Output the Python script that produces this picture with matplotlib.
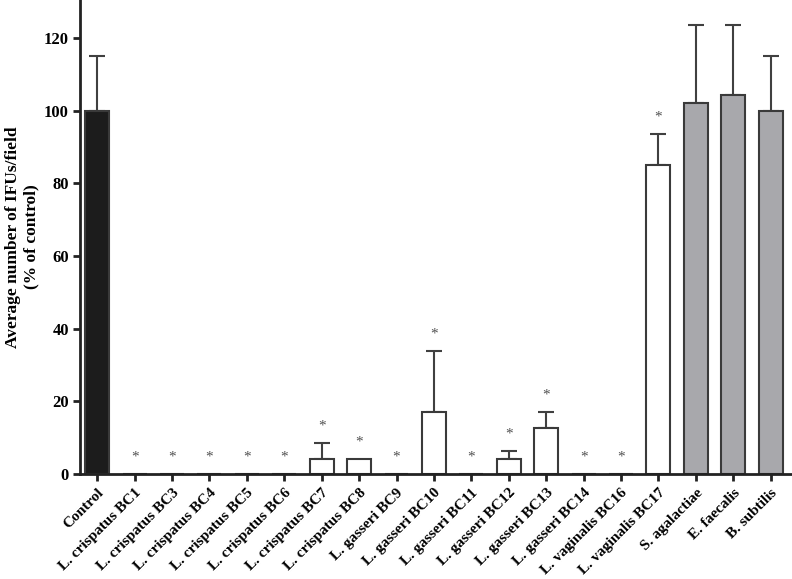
import numpy as np
import matplotlib
matplotlib.use("Agg")
import matplotlib.pyplot as plt

plt.rcParams['font.family'] = ['Liberation Serif', 'DejaVu Serif']
plt.rcParams['font.weight'] = 'bold'

labels = ["Control", "L. crispatus BC1", "L. crispatus BC3", "L. crispatus BC4",
          "L. crispatus BC5", "L. crispatus BC6", "L. crispatus BC7", "L. crispatus BC8",
          "L. gasseri BC9", "L. gasseri BC10", "L. gasseri BC11", "L. gasseri BC12",
          "L. gasseri BC13", "L. gasseri BC14", "L. vaginalis BC16", "L. vaginalis BC17",
          "S. agalactiae", "E. faecalis", "B. subtilis"]
means = [100, 0, 0, 0, 0, 0, 4.3, 4.3, 0, 17.0, 0, 4.3, 12.7, 0, 0, 85.1, 102.0, 104.3, 99.9]
errs = [15.0, 0, 0, 0, 0, 0, 4.3, 0, 0, 17.0, 0, 2.1, 4.4, 0, 0, 8.4, 21.5, 19.2, 15.0]
signif = [False, True, True, True, True, True, True, True, True, True, True, True,
          True, True, True, True, False, False, False]
groups = ["control"] + ["lacto"] * 15 + ["other"] * 3

colors = {"control": "#1c1c1c", "lacto": "white", "other": "#a8a8ac"}
edge = "#3a3a3a"

fig = plt.figure(figsize=(7.92, 5.79), dpi=100)
ax = fig.add_axes([0.101, 0.181, 0.899, 0.819])

x = np.arange(len(labels))
ax.bar(x, means, width=0.64, color=[colors[g] for g in groups],
       edgecolor=edge, linewidth=1.5, zorder=2)
has_err = [i for i in x if errs[i] > 0]
ax.errorbar([x[i] for i in has_err], [means[i] for i in has_err],
            yerr=[[0] * len(has_err), [errs[i] for i in has_err]],
            fmt='none', ecolor="#404040", elinewidth=1.5, capsize=6, capthick=1.5, zorder=1)

# asterisks above significant bars
for i in x:
    if signif[i]:
        top = means[i] + errs[i]
        ax.text(i, top + 2.8, "*", ha='center', va='bottom', fontsize=11,
                color="#505050", fontweight='normal')

ax.set_xlim(-0.46, len(labels) - 1 + 0.57)
ax.set_ylim(0, 130.4)
ax.set_yticks([0, 20, 40, 60, 80, 100, 120])
ax.set_xticks(x)
ax.set_xticklabels(labels, rotation=45, ha='right', rotation_mode='anchor', fontsize=11)
ax.tick_params(axis='y', labelsize=12, width=2, length=5, color='#222222', pad=3)
ax.tick_params(axis='x', width=2, length=5, color='#222222')
ax.set_ylabel("Average number of IFUs/field\n(% of control)", fontsize=12.5,
              fontweight='bold', labelpad=3)

for s in ['top', 'right']:
    ax.spines[s].set_visible(False)
for s in ['left', 'bottom']:
    ax.spines[s].set_linewidth(2)
    ax.spines[s].set_color('#222222')

fig.savefig("out.png", dpi=100)
